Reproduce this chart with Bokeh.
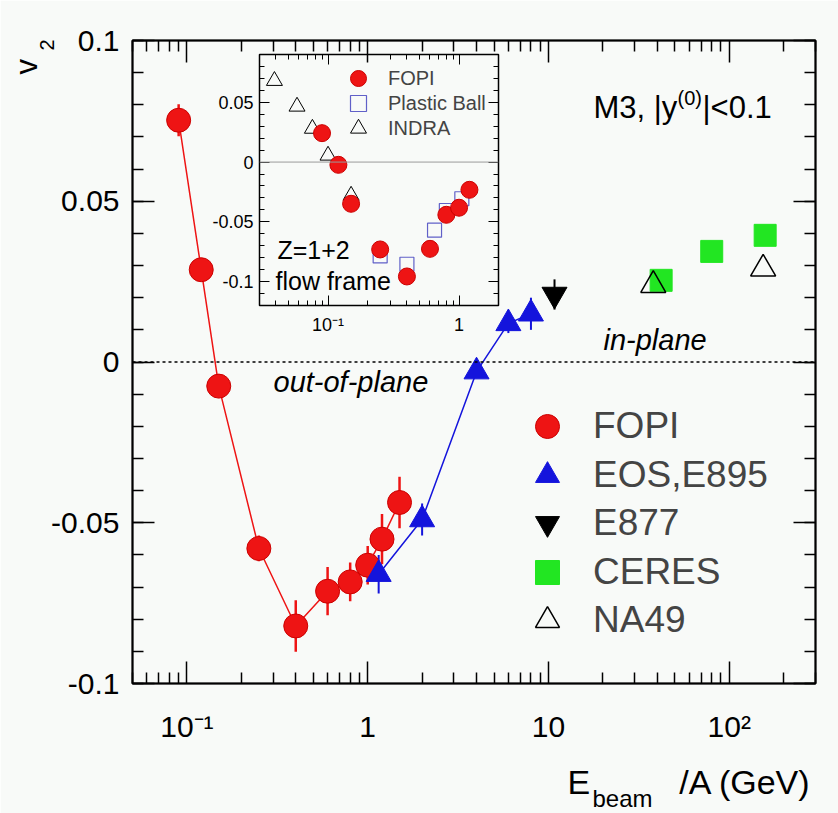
from math import pi
from bokeh.plotting import figure
from bokeh.models import (Range1d, LogAxis, LinearAxis, FixedTicker, CustomJSTickFormatter,
                          Span, Label, Legend, LegendItem, GridBox)
from bokeh.core.properties import value
from bokeh.embed import file_html
from bokeh.resources import INLINE

# ---------------- data ----------------
fopi_e = [0.09, 0.12, 0.15, 0.25, 0.4, 0.6, 0.8, 1.0, 1.2, 1.5]
fopi_v2 = [0.0752, 0.0287, -0.0075, -0.0580, -0.0821, -0.0713, -0.0684, -0.0632, -0.0551, -0.0437]
fopi_err = [0.005, 0.003, 0.003, 0.004, 0.008, 0.0075, 0.006, 0.006, 0.0078, 0.008]

eos_e = [1.15, 2.0, 4.0, 6.0, 8.0]
eos_v2 = [-0.066, -0.049, -0.003, 0.012, 0.015]
eos_err = [0.006, 0.005, 0.002, 0.003, 0.005]

e877_e = [10.8]
e877_v2 = [0.021]
e877_err = [0.0047]

ceres_e = [42.0, 80.0, 158.0]
ceres_v2 = [0.0254, 0.0344, 0.0394]

na49_e = [38.0, 154.0]
na49_v2 = [0.0239, 0.0290]

# inset
in_fopi_e = [0.09, 0.12, 0.15, 0.25, 0.4, 0.6, 0.8, 1.0, 1.2]
in_fopi_v2 = [0.0242, -0.0023, -0.0349, -0.0731, -0.0957, -0.0726, -0.0441, -0.0382, -0.0232]
pb_e = [0.25, 0.4, 0.65, 0.8, 1.05]
pb_v2 = [-0.0785, -0.0855, -0.0570, -0.0405, -0.0307]
indra_e = [0.039, 0.058, 0.076, 0.10, 0.15]
indra_v2 = [0.068, 0.0465, 0.028, 0.0055, -0.028]

x_major = [0.1, 1, 10, 100]
y_major = [-0.1, -0.05, 0.0, 0.05, 0.1]
in_x_major = [0.1, 1]
in_y_major = [-0.1, -0.05, 0.0, 0.05]

main_legend_labels = ["FOPI", "EOS,E895", "E877", "CERES", "NA49"]
inset_legend_labels = ["FOPI", "Plastic Ball", "INDRA"]

# ---------------- style ----------------
FONT = "Liberation Sans"
BG = "#f8faf8"
RED = "#ee1414"
RED_EDGE = "#cc0000"
BLUE = "#1414dc"
GREEN = "#22e622"

W, H = 838, 813
FL, FR, FT, FB = 132, 815, 40, 683

x_minor = [m * 10.0 ** k for k in range(-2, 3) for m in range(2, 10)]
y_minor = [round(-0.12 + 0.01 * i, 3) for i in range(23)]

yfmt = CustomJSTickFormatter(code="if (Math.abs(tick) < 1e-9) { return '0'; } return String(parseFloat(tick.toFixed(3)));")
xfmt = CustomJSTickFormatter(code=r"""
const k = Math.round(Math.log10(tick));
if (k === 0) { return '1'; }
if (k === 1) { return '10'; }
if (k === -1) { return '10\u207b\u00b9'; }
if (k === 2) { return '10\u00b2'; }
return '';
""")


def hidden():
    return CustomJSTickFormatter(code="return '';")


def no_align(fig):
    try:
        fig.frame_align = False
    except Exception:
        pass


def style_axis(ax, maj, mnr, lw, fs, standoff):
    ax.axis_line_color = "black"
    ax.axis_line_width = lw
    ax.major_tick_line_color = "black"
    ax.major_tick_line_width = lw
    ax.minor_tick_line_color = "black"
    ax.minor_tick_line_width = lw
    ax.major_tick_in = maj
    ax.major_tick_out = 0
    ax.minor_tick_in = mnr
    ax.minor_tick_out = 0
    ax.major_label_text_font = FONT
    ax.major_label_text_font_size = fs
    ax.major_label_text_color = "black"
    ax.major_label_standoff = standoff


SHIFT = 0.35  # baseline correction (fraction of font size)


def add_label(fig, fx, fy_base, text, size, style="normal", align="left"):
    """fx, fy_base: screen pixels relative to the frame's bottom-left (y up), baseline."""
    fig.add_layout(Label(x=fx, y=fy_base + SHIFT * size, x_units="screen", y_units="screen", text=text,
                         text_font=FONT, text_font_size=f"{size}px", text_font_style=style,
                         text_align=align, text_baseline="alphabetic", text_color="black"))


def add_vlabel(fig, fx_base, fy, text, size):
    """vertical text reading upwards; fx_base = baseline x."""
    fig.add_layout(Label(x=fx_base - SHIFT * size, y=fy, x_units="screen", y_units="screen", text=text,
                         text_font=FONT, text_font_size=f"{size}px", angle=pi / 2,
                         text_align="left", text_baseline="alphabetic", text_color="black"))


def text_box(w, h):
    f = figure(width=w, height=h, x_range=Range1d(0, 1), y_range=Range1d(0, 1),
               output_backend="svg", toolbar_location=None,
               min_border_left=0, min_border_right=0, min_border_top=0, min_border_bottom=0,
               x_axis_location=None, y_axis_location=None,
               background_fill_alpha=0, border_fill_alpha=0, outline_line_color=None)
    f.grid.visible = False
    no_align(f)
    return f


# ---------------- main figure ----------------
p = figure(width=W, height=H, x_axis_type="log",
           x_range=Range1d(0.05, 300), y_range=Range1d(-0.1, 0.1),
           output_backend="svg", toolbar_location=None,
           min_border_left=FL, min_border_right=W - FR, min_border_top=FT, min_border_bottom=H - FB,
           background_fill_color=BG, border_fill_color=BG)
p.grid.visible = False
p.outline_line_color = "black"
p.outline_line_width = 2
no_align(p)

xt = FixedTicker(ticks=x_major, minor_ticks=x_minor)
yt = FixedTicker(ticks=y_major, minor_ticks=y_minor)

xa = p.xaxis[0]
xa.ticker = xt
xa.formatter = xfmt
style_axis(xa, 22, 11, 1.5, "30px", 26)
ya = p.yaxis[0]
ya.ticker = yt
ya.formatter = yfmt
style_axis(ya, 22, 11, 1.5, "30px", 13)

top_ax = LogAxis(ticker=xt, formatter=hidden())
style_axis(top_ax, 22, 11, 1.5, "0px", 0)
p.add_layout(top_ax, "above")
right_ax = LinearAxis(ticker=yt, formatter=hidden())
style_axis(right_ax, 22, 11, 1.5, "0px", 0)
p.add_layout(right_ax, "right")

p.add_layout(Span(location=0, dimension="width", line_color="black", line_dash="3 3", line_width=1.5))

p.line(fopi_e, fopi_v2, line_color=RED, line_width=1.5)
p.line(eos_e, eos_v2, line_color=BLUE, line_width=1.5)

p.segment(x0=fopi_e, x1=fopi_e,
          y0=[v - e for v, e in zip(fopi_v2, fopi_err)],
          y1=[v + e for v, e in zip(fopi_v2, fopi_err)],
          line_color=RED, line_width=2.5)
p.segment(x0=eos_e, x1=eos_e,
          y0=[v - e for v, e in zip(eos_v2, eos_err)],
          y1=[v + e for v, e in zip(eos_v2, eos_err)],
          line_color=BLUE, line_width=2)
p.segment(x0=e877_e, x1=e877_e,
          y0=[v - e for v, e in zip(e877_v2, e877_err)],
          y1=[v + e for v, e in zip(e877_v2, e877_err)],
          line_color="black", line_width=2)

r_fopi = p.scatter(fopi_e, fopi_v2, marker="circle", size=24,
                   fill_color=RED, line_color=RED_EDGE, line_width=1)
r_eos = p.scatter(eos_e, eos_v2, marker="triangle", size=25,
                  fill_color=BLUE, line_color=BLUE)
r_e877 = p.scatter(e877_e, e877_v2, marker="inverted_triangle", size=25,
                   fill_color="black", line_color="black")
r_ceres = p.scatter(ceres_e, ceres_v2, marker="square", size=22,
                    fill_color=GREEN, line_color=GREEN)
r_na49 = p.scatter(na49_e, na49_v2, marker="triangle", size=25,
                   fill_color=None, line_color="black", line_width=1.5)

main_rows = [426, 475, 523, 572, 620]
for lab, rend, yc in zip(main_legend_labels, [r_fopi, r_eos, r_e877, r_ceres, r_na49], main_rows):
    p.add_layout(Legend(items=[LegendItem(label=value(lab), renderers=[rend])],
                        location=(517 - FL, FB - (yc + 30)),
                        glyph_width=60, glyph_height=60, spacing=0, padding=0, margin=0,
                        label_standoff=16, label_text_font=FONT, label_text_font_size="37px",
                        label_text_baseline="middle",
                        border_line_alpha=0, background_fill_alpha=0))

add_label(p, 593 - FL, FB - 118, "M3, |y", 31)
add_label(p, 677 - FL, FB - 104, "(0)", 20)
add_label(p, 702 - FL, FB - 118, "|<0.1", 31)
add_label(p, 603 - FL, FB - 350, "in-plane", 29, style="italic")
add_label(p, 273 - FL, FB - 392, "out-of-plane", 29, style="italic")

# ---------------- inset ----------------
IL, IR, IT, IB = 259, 498, 54, 305
I_LEFT, I_TOP = 199, 50
IW = (IR + 4) - I_LEFT      # 303
IH = (IB + 45) - I_TOP      # 300

ins = figure(width=IW, height=IH, x_axis_type="log",
             x_range=Range1d(0.03, 2), y_range=Range1d(-0.12, 0.09),
             output_backend="svg", toolbar_location=None,
             min_border_left=IL - I_LEFT, min_border_right=4, min_border_top=IT - I_TOP,
             min_border_bottom=45,
             background_fill_alpha=0, border_fill_alpha=0)
ins.grid.visible = False
ins.outline_line_color = "black"
ins.outline_line_width = 1.5
no_align(ins)

ixt = FixedTicker(ticks=in_x_major, minor_ticks=x_minor)
iyt = FixedTicker(ticks=in_y_major, minor_ticks=y_minor)
ixa = ins.xaxis[0]
ixa.ticker = ixt
ixa.formatter = xfmt
style_axis(ixa, 10, 5, 1, "18px", 9)
iya = ins.yaxis[0]
iya.ticker = iyt
iya.formatter = yfmt
style_axis(iya, 10, 5, 1, "18px", 6)
itop = LogAxis(ticker=ixt, formatter=hidden())
style_axis(itop, 10, 5, 1, "0px", 0)
ins.add_layout(itop, "above")
iright = LinearAxis(ticker=iyt, formatter=hidden())
style_axis(iright, 10, 5, 1, "0px", 0)
ins.add_layout(iright, "right")

ins.add_layout(Span(location=0, dimension="width", line_color="#9a9a9a", line_width=1))

r_indra = ins.scatter(indra_e, indra_v2, marker="triangle", size=16,
                      fill_color=None, line_color="black", line_width=1)
r_pb = ins.scatter(pb_e, pb_v2, marker="square", size=14,
                   fill_color=None, line_color="#6060c8", line_width=1.2)
r_ifopi = ins.scatter(in_fopi_e, in_fopi_v2, marker="circle", size=17,
                      fill_color=RED, line_color=RED_EDGE, line_width=1)

inset_rows = [78, 103, 128]
for lab, rend, yc in zip(inset_legend_labels, [r_ifopi, r_pb, r_indra], inset_rows):
    ins.add_layout(Legend(items=[LegendItem(label=value(lab), renderers=[rend])],
                          location=(338 - IL, IB - (yc + 20)),
                          glyph_width=40, glyph_height=40, spacing=0, padding=0, margin=0,
                          label_standoff=10, label_text_font=FONT, label_text_font_size="20px",
                          label_text_baseline="middle",
                          border_line_alpha=0, background_fill_alpha=0))

add_label(ins, 277 - IL, IB - 258, "Z=1+2", 25)
add_label(ins, 275 - IL, IB - 289, "flow frame", 25)

# ---------------- axis titles (outside the frame, in their own boxes) ----------------
# y title box: x 2..72, y 8..92
VX0, VY0, VW, VH = 2, 8, 70, 84
vfig = text_box(VW, VH)
add_vlabel(vfig, 37 - VX0, (VY0 + VH) - 74, "v", 31)
add_vlabel(vfig, 53 - VX0, (VY0 + VH) - 50, "2", 20)

# x title box: x 545..835, y 755..813
TX0, TY0, TW, TH = 545, 755, 290, 58
xfig = text_box(TW, TH)
add_label(xfig, 567 - TX0, (TY0 + TH) - 793, "E", 34)
add_label(xfig, 592 - TX0, (TY0 + TH) - 806, "beam", 24)
add_label(xfig, 811 - TX0, (TY0 + TH) - 793, "/A (GeV)", 34, align="right")

# ---------------- overlay layout (CSS grid with overlapping cells) ----------------
col_edges = [0, VX0, VX0 + VW, I_LEFT, I_LEFT + IW, TX0, TX0 + TW, W]
row_edges = [0, VY0, I_TOP, VY0 + VH, I_TOP + IH, TY0, H]
cols = [f"{b - a}px" for a, b in zip(col_edges[:-1], col_edges[1:])]
rows = [f"{b - a}px" for a, b in zip(row_edges[:-1], row_edges[1:])]

grid = GridBox(children=[
    (p, 0, 0, len(rows), len(cols)),
    (ins, 2, 3, 2, 1),
    (vfig, 1, 1, 2, 1),
    (xfig, 5, 5, 1, 1),
], rows=rows, cols=cols)

with open("out.html", "w", encoding="utf-8") as f:
    f.write(file_html(grid, INLINE))
